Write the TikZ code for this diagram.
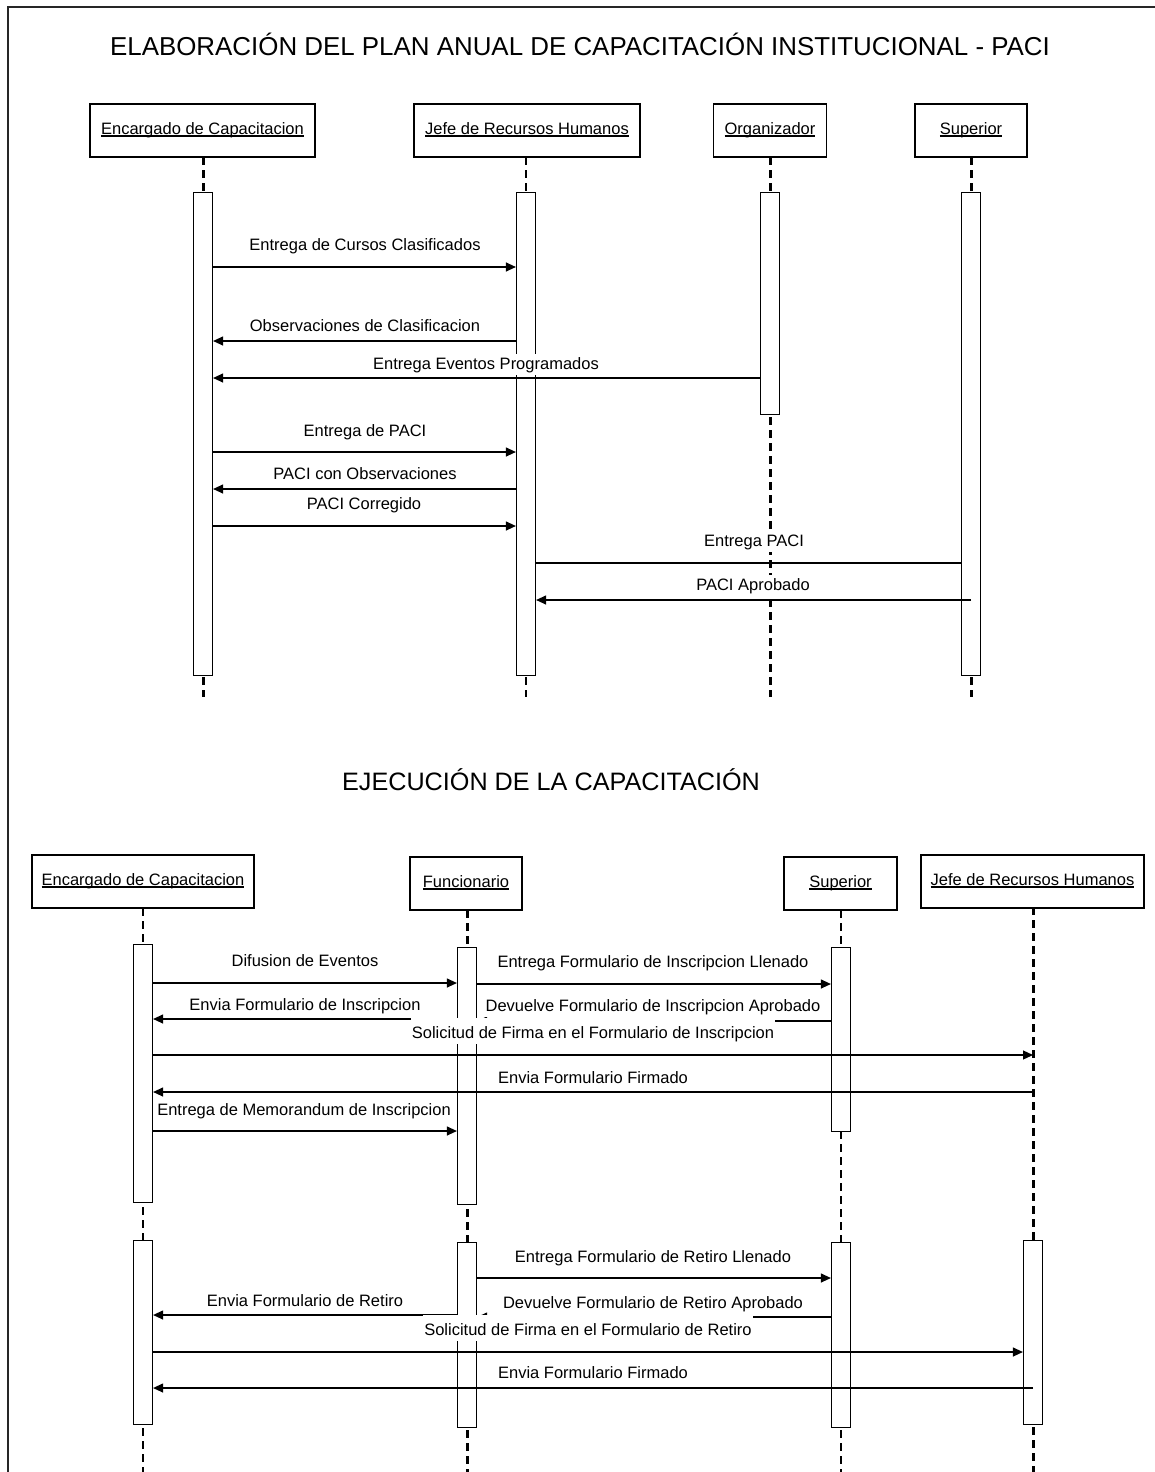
\documentclass[tikz,border=0pt]{standalone}
\usepackage{fontspec}
\setmainfont{Liberation Sans}
\usetikzlibrary{arrows.meta}
\newcommand\hdrul[1]{\setbox0\hbox{#1}\rlap{\copy0}\rule[-2.6pt]{\wd0}{1.2pt}}
\begin{document}
\begin{tikzpicture}[x=1pt,y=-1pt,
  hdr/.style={draw=black, line width=1.2pt, fill=white, minimum height=53pt, inner sep=0pt, text height=12pt, text depth=5pt, font=\fontsize{16.5}{20}\selectfont},
  bar/.style={draw=black, line width=1.2pt, fill=white, minimum width=19pt, inner sep=0pt, anchor=north},
  lifethick/.style={line width=3pt, dash pattern=on 8pt off 5pt},
  lifethin/.style={line width=1.3pt, dash pattern=on 8pt off 5pt},
  msg/.style={line width=1.2pt, -{Triangle[length=10pt,width=9pt]}},
  plainmsg/.style={line width=1.2pt},
  lbl/.style={fill=white, inner xsep=1pt, inner ysep=2pt, text height=13pt, text depth=4pt, anchor=base, font=\fontsize{16.5}{20}\selectfont},
  lbltall/.style={lbl, text height=18pt},
  ttl/.style={inner sep=0pt}
]
\useasboundingbox (0,0) rectangle (1155,1472);
% frame
\draw[line width=1.3pt, black!85] (8,1472) -- (8,7) -- (1155,7);

% titles
\node[ttl, font=\fontsize{25.9}{30}\selectfont] (t1) at (580,44) {ELABORACIÓN DEL PLAN ANUAL DE CAPACITACIÓN INSTITUCIONAL - PACI};
\node[ttl, font=\fontsize{25.2}{30}\selectfont] (t2) at (551,780) {EJECUCIÓN DE LA CAPACITACIÓN};

% ===== top section =====
\coordinate (eE) at (203,697);
\coordinate (eJ) at (526,697);
\coordinate (eO) at (770,697);
\coordinate (eS) at (971,697);
\draw[lifethick] (203,157) -- (eE);
\draw[lifethin]  (526,157) -- (eJ);
\draw[lifethick] (770,157) -- (eO);
\draw[lifethick] (971,157) -- (eS);

\node[hdr, minimum width=225pt] (hE) at (202.5,130.5) {\hdrul{Encargado de Capacitacion}};
\node[hdr, minimum width=226pt] (hJ) at (527,130.5) {\hdrul{Jefe de Recursos Humanos}};
\node[hdr, minimum width=113pt] (hO) at (770,130.5) {\hdrul{Organizador}};
\node[hdr, minimum width=112pt] (hS) at (971,130.5) {\hdrul{Superior}};

\node[bar, minimum height=483pt] (bE) at (203,192) {};
\node[bar, minimum height=483pt] (bJ) at (526,192) {};
\node[bar, minimum height=222pt] (bO) at (770,192) {};
\node[bar, minimum height=483pt] (bS) at (971,192) {};

\draw[msg] (bE.east |- 0,267) -- (bJ.west |- 0,267);
\draw[msg] (bJ.west |- 0,341) -- (bE.east |- 0,341);
\draw[msg] (bO.west |- 0,378) -- (bE.east |- 0,378);
\draw[msg] (bE.east |- 0,452) -- (bJ.west |- 0,452);
\draw[msg] (bJ.west |- 0,489) -- (bE.east |- 0,489);
\draw[msg] (bE.east |- 0,526) -- (bJ.west |- 0,526);
\draw[plainmsg] (bJ.east |- 0,563) -- (bS.west |- 0,563);
\draw[msg] (bS.center |- 0,600) -- (bJ.east |- 0,600);

\node[lbl] (m1) at (365,250) {Entrega de Cursos Clasificados};
\node[lbl] (m2) at (365,331) {Observaciones de Clasificacion};
\node[lbl] (m3) at (486,369) {Entrega Eventos Programados};
\node[lbl] (m4) at (365,436) {Entrega de PACI};
\node[lbl] (m5) at (365,479) {PACI con Observaciones};
\node[lbl] (m6) at (364,509) {PACI Corregido};
\node[lbl] (m7) at (754,546) {Entrega PACI};
\node[lbl] (m8) at (753,590) {PACI Aprobado};

% ===== bottom section =====
\coordinate (fE) at (143,1472);
\coordinate (fF) at (467,1472);
\coordinate (fS) at (841,1472);
\coordinate (fJ) at (1033,1472);
\draw[lifethin]  (143,908) -- (fE);
\draw[lifethick] (467,910) -- (fF);
\draw[lifethin]  (841,910) -- (fS);
\draw[lifethick] (1033,907) -- (fJ);

\node[hdr, minimum width=222pt] (gE) at (143,881.5) {\hdrul{Encargado de Capacitacion}};
\node[hdr, minimum width=112pt] (gF) at (466,883.5) {\hdrul{Funcionario}};
\node[hdr, minimum width=113pt] (gS) at (840.5,883.5) {\hdrul{Superior}};
\node[hdr, minimum width=223pt] (gJ) at (1032.5,881.5) {\hdrul{Jefe de Recursos Humanos}};

\node[bar, minimum height=258pt] (cE) at (143,944) {};
\node[bar, minimum height=257pt] (cF) at (467,947) {};
\node[bar, minimum height=184pt] (cS) at (841,947) {};

\node[bar, minimum height=184pt] (dE) at (143,1240) {};
\node[bar, minimum height=185pt] (dF) at (467,1242) {};
\node[bar, minimum height=185pt] (dS) at (841,1242) {};
\node[bar, minimum height=184pt] (dJ) at (1033,1240) {};

\draw[msg] (cE.east |- 0,983) -- (cF.west |- 0,983);
\draw[msg] (cF.east |- 0,984) -- (cS.west |- 0,984);
\draw[msg] (cF.west |- 0,1019) -- (cE.east |- 0,1019);
\draw[msg] (cS.west |- 0,1021) -- (cF.east |- 0,1021);
\draw[msg] (cE.east |- 0,1055) -- (fJ |- 0,1055);
\draw[msg] (fJ |- 0,1092) -- (cE.east |- 0,1092);
\draw[msg] (cE.east |- 0,1131) -- (cF.west |- 0,1131);

\draw[msg] (dF.east |- 0,1278) -- (dS.west |- 0,1278);
\draw[msg] (dF.west |- 0,1315) -- (dE.east |- 0,1315);
\draw[msg] (dS.west |- 0,1317) -- (dF.east |- 0,1317);
\draw[msg] (dE.east |- 0,1352) -- (dJ.west |- 0,1352);
\draw[msg] (dJ.center |- 0,1388) -- (dE.east |- 0,1388);

\node[lbl] (n1) at (305,966) {Difusion de Eventos};
\node[lbl] (n2) at (653,967) {Entrega Formulario de Inscripcion Llenado};
\node[lbl] (n3) at (305,1010) {Envia Formulario de Inscripcion};
\node[lbl] (n4) at (653,1011) {Devuelve Formulario de Inscripcion Aprobado};
\node[lbltall] (n5) at (593,1038) {Solicitud de Firma en el Formulario de Inscripcion};
\node[lbl] (n6) at (593,1083) {Envia Formulario Firmado};
\node[lbl] (n7) at (304,1115) {Entrega de Memorandum de Inscripcion};

\node[lbl] (p1) at (653,1262) {Entrega Formulario de Retiro Llenado};
\node[lbl] (p2) at (305,1306) {Envia Formulario de Retiro};
\node[lbl] (p3) at (653,1308) {Devuelve Formulario de Retiro Aprobado};
\node[lbltall] (p4) at (588,1335) {Solicitud de Firma en el Formulario de Retiro};
\node[lbl] (p5) at (593,1378) {Envia Formulario Firmado};
\end{tikzpicture}
\end{document}
